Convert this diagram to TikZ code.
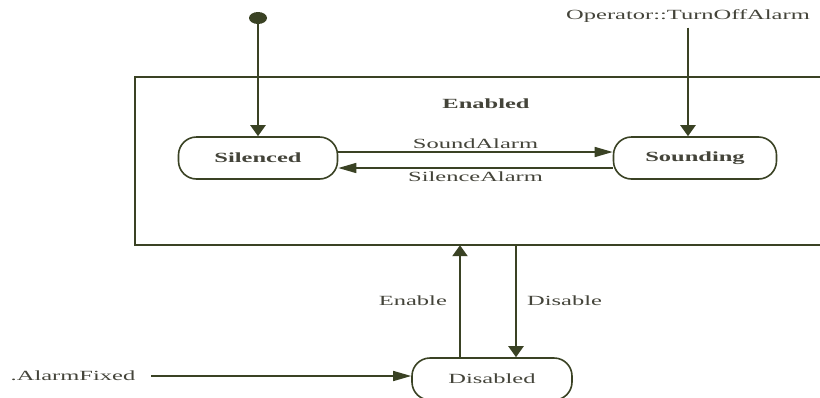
\documentclass[tikz,border=0pt]{standalone}
\usepackage{fontspec}
\setmainfont{Liberation Serif}
\usetikzlibrary{arrows.meta,shapes.geometric}
\definecolor{linec}{RGB}{58,66,36}
\definecolor{textc}{RGB}{68,68,58}
\newcommand{\wt}[1]{\scalebox{1.75}[1]{#1}}
\tikzset{
  lbl/.style={text=textc,font=\fontsize{14}{16}\selectfont,inner sep=2pt},
  statebox/.style={draw=linec,line width=1.6pt,rounded corners=18pt,
    minimum height=42pt,text=textc,font=\fontsize{14}{16}\selectfont\bfseries},
  harr/.style={draw=linec,line width=1.5pt,-{Triangle[length=18pt,width=10pt]}},
  varr/.style={draw=linec,line width=2.2pt,-{Triangle[length=11pt,width=15pt]}},
  frame/.style={draw=linec,line width=1.5pt}
}
\begin{document}
\begin{tikzpicture}[x=1pt,y=-1pt]
\useasboundingbox (0,0) rectangle (820,397);
\fill[white] (0,0) rectangle (820,397);
% container
\node[minimum width=700pt,minimum height=168pt,inner sep=0pt] (enabled) at (485,161) {};
\draw[frame] (enabled.north east) -- (enabled.north west) -- (enabled.south west) -- (enabled.south east);
\node[lbl,font=\fontsize{14}{16}\selectfont\bfseries] (enlbl) at (486,104) {\wt{Enabled}};
% initial state
\node[ellipse,fill=linec,minimum width=18pt,minimum height=12pt,inner sep=0pt] (init) at (258,18) {};
% states
\node[statebox,minimum width=159pt] (silenced) at (258,158) {\wt{Silenced}};
\node[statebox,minimum width=163pt] (sounding) at (695,158) {\wt{Sounding}};
\node[statebox,minimum width=160pt,font=\fontsize{14}{16}\selectfont] (disabled) at (492,379) {\wt{Disabled}};
% external labels
\node[lbl] (op) at (688,16) {\wt{Operator::TurnOffAlarm}};
\node[lbl] (af) at (73,376) {\wt{.AlarmFixed}};
% connectors
\draw[varr] ([yshift=-3pt]op.south) -- (op.south |- sounding.north);
\draw[varr] (init.south) -- (silenced.north);
\draw[harr] ([yshift=6pt]silenced.east) -- node[lbl,above=1pt] (sa) {\wt{SoundAlarm}} ([yshift=6pt]sounding.west);
\draw[harr] ([yshift=-10pt]sounding.west) -- node[lbl,below=1pt] (sl) {\wt{SilenceAlarm}} ([yshift=-10pt]silenced.east);
\coordinate (ex) at (460,0);
\coordinate (dx) at (516,0);
\draw[varr] (disabled.north -| ex) -- node[lbl,left=10pt,pos=0.5] (enl) {\wt{Enable}} (enabled.south -| ex);
\draw[varr] (enabled.south -| dx) -- node[lbl,right=8pt,pos=0.5] (dil) {\wt{Disable}} (disabled.north -| dx);
\draw[harr] ([xshift=14pt]af.east) -- (af.east -| disabled.west);
\end{tikzpicture}
\end{document}
